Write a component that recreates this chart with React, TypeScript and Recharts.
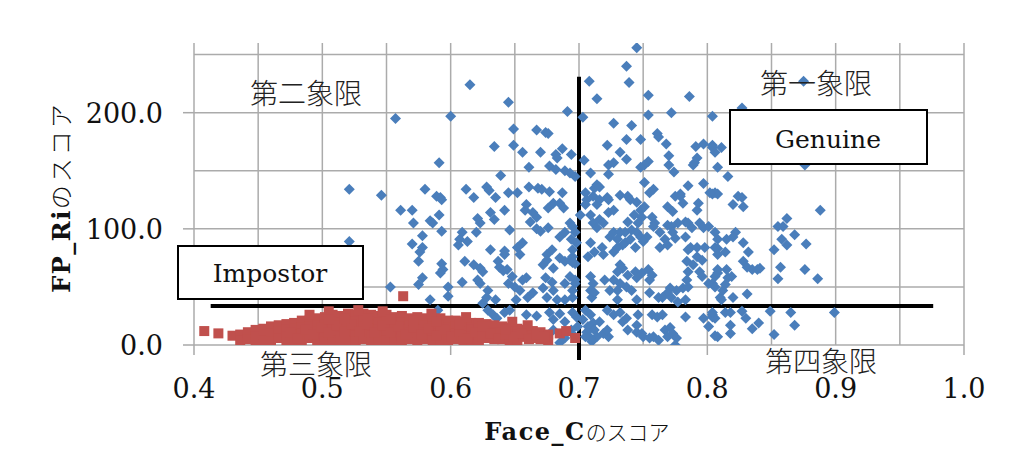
import {
  ScatterChart,
  Scatter,
  XAxis,
  YAxis,
  CartesianGrid,
  ReferenceLine,
} from 'recharts';

// Face_C score (x) / FP_Ri score (y) pairs
const genuinePoints: [number, number][] = [
  [0.615, 224], [0.645, 209], [0.557, 195], [0.600, 197], [0.691, 201], [0.649, 186], [0.667, 185],
  [0.674, 183], [0.676, 182], [0.634, 171], [0.649, 172], [0.656, 166], [0.670, 166], [0.687, 169],
  [0.694, 164], [0.682, 164], [0.683, 161], [0.591, 157], [0.661, 153], [0.677, 154], [0.682, 151],
  [0.689, 150], [0.693, 148], [0.697, 145], [0.639, 146], [0.580, 134], [0.589, 128], [0.592, 127],
  [0.546, 129], [0.612, 134], [0.618, 127], [0.628, 136], [0.630, 133], [0.635, 127], [0.645, 131],
  [0.652, 131], [0.661, 136], [0.668, 135], [0.671, 134], [0.677, 132], [0.687, 131],
  [0.521, 134], [0.521, 89],
  [0.745, 256], [0.737, 240], [0.739, 226], [0.708, 227], [0.714, 212], [0.754, 215], [0.786, 214],
  [0.754, 198], [0.772, 200], [0.804, 197], [0.703, 196], [0.727, 191], [0.741, 189], [0.761, 182],
  [0.762, 179], [0.737, 177], [0.748, 177], [0.768, 173], [0.722, 172], [0.732, 166], [0.737, 160],
  [0.770, 163], [0.791, 171], [0.797, 173], [0.804, 172], [0.806, 166], [0.808, 153], [0.792, 161],
  [0.790, 157], [0.789, 155], [0.704, 159], [0.723, 155], [0.727, 157], [0.754, 158], [0.751, 155],
  [0.748, 153], [0.770, 155], [0.774, 149], [0.709, 148], [0.723, 147], [0.751, 140], [0.714, 138],
  [0.712, 135], [0.716, 136], [0.785, 137], [0.797, 139], [0.755, 131], [0.758, 134], [0.705, 131],
  [0.732, 129], [0.738, 128], [0.722, 127], [0.775, 128], [0.779, 130], [0.804, 130], [0.808, 130],
  [0.875, 227], [0.827, 204], [0.804, 170], [0.811, 170], [0.816, 145], [0.806, 131], [0.824, 128],
  [0.827, 127], [0.876, 155], [0.888, 116],
  [0.862, 109], [0.855, 102], [0.859, 102], [0.868, 95], [0.858, 91], [0.862, 86], [0.877, 87],
  [0.852, 82], [0.857, 67], [0.876, 65], [0.886, 57], [0.855, 57], [0.820, 121], [0.828, 119],
  [0.806, 97], [0.808, 91], [0.815, 91], [0.822, 97], [0.820, 93], [0.828, 88], [0.808, 83],
  [0.814, 80], [0.808, 78], [0.832, 80], [0.828, 72], [0.831, 67], [0.835, 65], [0.839, 65],
  [0.841, 66], [0.808, 62], [0.815, 65], [0.816, 58], [0.819, 59], [0.804, 53], [0.806, 50],
  [0.814, 52], [0.812, 47], [0.810, 41], [0.811, 39], [0.820, 41], [0.831, 44], [0.849, 29],
  [0.865, 28], [0.899, 28], [0.804, 26], [0.806, 23], [0.814, 28], [0.818, 28], [0.827, 29],
  [0.830, 23], [0.840, 19], [0.818, 17], [0.835, 14], [0.868, 17], [0.806, 8], [0.818, 10], [0.852, 9],
  [0.593, 125], [0.561, 116], [0.570, 116], [0.571, 105], [0.584, 107], [0.586, 105], [0.591, 112],
  [0.593, 98], [0.578, 94], [0.570, 87], [0.578, 84], [0.576, 80], [0.575, 72], [0.578, 58],
  [0.593, 70], [0.594, 65], [0.592, 62], [0.575, 52], [0.553, 50], [0.584, 39], [0.598, 50],
  [0.598, 42], [0.609, 97], [0.613, 89], [0.606, 86], [0.607, 91], [0.620, 97], [0.611, 72],
  [0.618, 69], [0.623, 66], [0.625, 63], [0.609, 54], [0.621, 56], [0.623, 53], [0.629, 47],
  [0.628, 41], [0.635, 39], [0.625, 36], [0.631, 114], [0.634, 108], [0.642, 116], [0.623, 105],
  [0.621, 109], [0.631, 82], [0.642, 78], [0.642, 81], [0.637, 72], [0.638, 67], [0.641, 64],
  [0.646, 99], [0.644, 65], [0.648, 59], [0.645, 53], [0.650, 50], [0.656, 56], [0.659, 58],
  [0.654, 47], [0.651, 39], [0.660, 41], [0.664, 45], [0.659, 26], [0.667, 25], [0.652, 84],
  [0.656, 88], [0.654, 78], [0.658, 116], [0.659, 121], [0.664, 114], [0.667, 110], [0.662, 106],
  [0.667, 100], [0.670, 98], [0.676, 118], [0.680, 122], [0.685, 122], [0.688, 118], [0.676, 101],
  [0.685, 93], [0.689, 97], [0.693, 105], [0.675, 78], [0.679, 82], [0.675, 73], [0.672, 69],
  [0.680, 66], [0.685, 75], [0.689, 72], [0.693, 73], [0.695, 76], [0.697, 70], [0.674, 58],
  [0.679, 54], [0.672, 49], [0.680, 47], [0.689, 53], [0.693, 59], [0.697, 56], [0.675, 41],
  [0.683, 39], [0.689, 39], [0.695, 41], [0.677, 28], [0.685, 27], [0.680, 22], [0.689, 20],
  [0.695, 28], [0.590, 30], [0.629, 30], [0.633, 26], [0.636, 23], [0.642, 28], [0.646, 30],
  [0.706, 125], [0.705, 121], [0.714, 121], [0.711, 128], [0.716, 125], [0.723, 125], [0.740, 125],
  [0.745, 123], [0.748, 116], [0.769, 119], [0.773, 115], [0.779, 128], [0.781, 122], [0.792, 116],
  [0.793, 122], [0.802, 131], [0.701, 112], [0.709, 112], [0.716, 108], [0.723, 114], [0.727, 116],
  [0.719, 105], [0.711, 105], [0.714, 101], [0.738, 106], [0.743, 112], [0.749, 110], [0.751, 119],
  [0.757, 110], [0.759, 105], [0.758, 102], [0.746, 105], [0.769, 103], [0.772, 102], [0.777, 105],
  [0.783, 106], [0.785, 105], [0.788, 101], [0.794, 105], [0.797, 101], [0.801, 102],
  [0.727, 97], [0.732, 97], [0.736, 97], [0.741, 99], [0.745, 97], [0.748, 93], [0.724, 93],
  [0.730, 91], [0.736, 88], [0.740, 91], [0.744, 84], [0.753, 93], [0.750, 89], [0.763, 97],
  [0.767, 91], [0.763, 84], [0.769, 86], [0.773, 97], [0.775, 92], [0.783, 93], [0.787, 84],
  [0.785, 82], [0.792, 84], [0.792, 76], [0.798, 84], [0.796, 73], [0.806, 84], [0.709, 88],
  [0.712, 80], [0.707, 76], [0.718, 84], [0.719, 78], [0.727, 80], [0.734, 86], [0.730, 84],
  [0.695, 102], [0.697, 97], [0.694, 91], [0.698, 88], [0.695, 82],
  [0.732, 69], [0.734, 66], [0.730, 63], [0.738, 60], [0.744, 63], [0.745, 58], [0.749, 62],
  [0.754, 65], [0.757, 60], [0.755, 56], [0.720, 56], [0.727, 56], [0.732, 53], [0.737, 50],
  [0.741, 47], [0.730, 47], [0.724, 47], [0.784, 72], [0.789, 69], [0.785, 63], [0.794, 63],
  [0.796, 59], [0.784, 56], [0.781, 49], [0.785, 50], [0.776, 47], [0.771, 49], [0.769, 45],
  [0.801, 53], [0.808, 65], [0.806, 59], [0.709, 59], [0.711, 53], [0.709, 47], [0.710, 41],
  [0.712, 45], [0.695, 71], [0.697, 53], [0.695, 47], [0.730, 39], [0.745, 39], [0.755, 45],
  [0.762, 41], [0.765, 41], [0.772, 41], [0.777, 37], [0.783, 39],
  [0.705, 30], [0.709, 26], [0.703, 22], [0.711, 19], [0.707, 16], [0.716, 20], [0.712, 13],
  [0.706, 11], [0.714, 7], [0.709, 6], [0.705, 7], [0.710, 3], [0.719, 10], [0.723, 7], [0.722, 13],
  [0.722, 30], [0.727, 26], [0.732, 28], [0.734, 20], [0.737, 23], [0.745, 17], [0.746, 26],
  [0.738, 13], [0.745, 11], [0.749, 10], [0.750, 7], [0.755, 6], [0.758, 7], [0.762, 4],
  [0.757, 26], [0.761, 24], [0.765, 26], [0.767, 13], [0.771, 15], [0.773, 10], [0.776, 6],
  [0.769, 7], [0.775, 0], [0.783, 24], [0.797, 23], [0.801, 16], [0.804, 24], [0.808, 7],
  [0.804, 28], [0.698, 24], [0.699, 16], [0.697, 7], [0.694, 13], [0.680, 13], [0.689, 6], [0.685, 2],
];

const impostorPoints: [number, number][] = [
  [0.408, 12], [0.419, 10], [0.430, 8],
  [0.436, 9], [0.436, 4], [0.442, 11], [0.442, 5],
  [0.448, 13], [0.448, 7], [0.448, 2], [0.454, 14], [0.454, 9], [0.454, 4],
  [0.460, 16], [0.460, 10], [0.460, 3], [0.466, 17], [0.466, 12], [0.466, 6],
  [0.472, 18], [0.472, 13], [0.472, 7], [0.472, 2], [0.478, 19], [0.478, 14], [0.478, 9], [0.478, 4],
  [0.484, 21], [0.484, 15], [0.484, 10], [0.484, 3], [0.490, 21], [0.490, 16], [0.490, 11], [0.490, 6],
  [0.496, 23], [0.496, 17], [0.496, 12], [0.496, 6], [0.496, 2],
  [0.502, 24], [0.502, 18], [0.502, 13], [0.502, 8], [0.502, 3],
  [0.508, 26], [0.508, 20], [0.508, 14], [0.508, 9], [0.508, 4],
  [0.514, 25], [0.514, 19], [0.514, 13], [0.514, 7], [0.514, 2],
  [0.520, 27], [0.520, 21], [0.520, 15], [0.520, 10], [0.520, 4],
  [0.526, 26], [0.526, 20], [0.526, 14], [0.526, 8], [0.526, 3],
  [0.532, 27], [0.532, 22], [0.532, 16], [0.532, 10], [0.532, 5],
  [0.538, 26], [0.538, 20], [0.538, 14], [0.538, 8], [0.538, 2],
  [0.544, 25], [0.544, 19], [0.544, 13], [0.544, 7], [0.544, 3],
  [0.550, 26], [0.550, 21], [0.550, 15], [0.550, 9], [0.550, 4],
  [0.556, 24], [0.556, 18], [0.556, 12], [0.556, 6], [0.556, 2],
  [0.562, 25], [0.562, 19], [0.562, 13], [0.562, 8], [0.562, 3],
  [0.568, 23], [0.568, 17], [0.568, 11], [0.568, 5],
  [0.574, 24], [0.574, 18], [0.574, 13], [0.574, 7], [0.574, 2],
  [0.580, 23], [0.580, 17], [0.580, 11], [0.580, 5],
  [0.586, 22], [0.586, 16], [0.586, 10], [0.586, 4],
  [0.592, 23], [0.592, 17], [0.592, 12], [0.592, 6], [0.592, 2],
  [0.598, 21], [0.598, 15], [0.598, 9], [0.598, 3],
  [0.604, 21], [0.604, 16], [0.604, 10], [0.604, 5],
  [0.610, 20], [0.610, 14], [0.610, 8], [0.610, 3],
  [0.616, 19], [0.616, 13], [0.616, 7], [0.616, 2],
  [0.622, 19], [0.622, 14], [0.622, 9], [0.622, 4],
  [0.628, 18], [0.628, 12], [0.628, 6], [0.634, 17], [0.634, 11], [0.634, 5],
  [0.640, 16], [0.640, 11], [0.640, 5], [0.646, 15], [0.646, 9], [0.646, 3],
  [0.652, 14], [0.652, 9], [0.652, 4], [0.658, 13], [0.658, 7], [0.664, 12], [0.664, 6],
  [0.670, 11], [0.670, 5], [0.676, 9], [0.676, 4], [0.685, 10], [0.690, 12], [0.697, 6],
  [0.490, 26], [0.505, 29], [0.528, 30], [0.547, 29], [0.585, 27], [0.612, 24], [0.648, 20],
  [0.660, 17], [0.563, 42],
  [0.475, 11], [0.481, 6], [0.487, 13], [0.493, 9], [0.499, 15], [0.505, 11], [0.511, 17],
  [0.517, 12], [0.523, 18], [0.529, 12], [0.535, 18], [0.541, 11], [0.547, 17], [0.553, 11],
  [0.559, 16], [0.565, 9], [0.571, 15], [0.577, 9], [0.583, 14], [0.589, 8], [0.595, 13],
  [0.601, 7], [0.607, 12], [0.613, 6], [0.619, 11], [0.625, 7], [0.631, 10], [0.637, 6],
  [0.643, 9], [0.649, 7], [0.655, 10], [0.661, 5], [0.667, 9], [0.673, 7], [0.505, 22],
  [0.517, 23], [0.535, 23], [0.553, 22], [0.571, 21], [0.589, 20], [0.607, 18], [0.625, 16],
  [0.643, 13],
];

const xTicks = [0.4, 0.45, 0.5, 0.55, 0.6, 0.65, 0.7, 0.75, 0.8, 0.85, 0.9, 0.95, 1.0];
const xTickMarks = [0.4, 0.6, 0.8, 1.0];
const yTicks = [0, 50, 100, 150, 200, 250];
const yLabelled = [0, 100, 200];
const yMax = 260;

// threshold lines: Face_C = 0.7, FP_Ri = 33.6
const faceThreshold = 0.7;
const fpThreshold = 33.6;
const vSegment = [{ x: faceThreshold, y: -13 }, { x: faceThreshold, y: 231 }];
const hSegment = [{ x: 0.413, y: fpThreshold }, { x: 0.976, y: fpThreshold }];

const genuineData = genuinePoints.map(([x, y]) => ({ x, y }));
const impostorData = impostorPoints.map(([x, y]) => ({ x, y }));

const SERIF = "'DejaVu Serif', serif";
const CJK = "'Noto Sans CJK JP', sans-serif";

const near = (a: number, b: number) => Math.abs(a - b) < 1e-6;

const Diamond = (props: any) => {
  const { cx, cy } = props;
  return (
    <path
      d={`M${cx},${cy - 5.5}L${cx + 5.5},${cy}L${cx},${cy + 5.5}L${cx - 5.5},${cy}Z`}
      fill="#4a7ebb"
    />
  );
};

const Square = (props: any) => {
  const { cx, cy } = props;
  return <rect x={cx - 5} y={cy - 5} width={10} height={10} fill="#c0504d" />;
};

const XTick = (props: any) => {
  const { x, y, payload } = props;
  const v = payload.value as number;
  const major = near(v * 10, Math.round(v * 10));
  return (
    <g>
      {xTickMarks.some((t) => near(t, v)) && (
        <line x1={x} x2={x} y1={y} y2={y + 10} stroke="#a9a9a9" strokeWidth={1.5} />
      )}
      {major && (
        <text x={x} y={y + 53} textAnchor="middle" fontFamily={SERIF} fontSize={27} fill="#111">
          {v.toFixed(1)}
        </text>
      )}
    </g>
  );
};

const YTick = (props: any) => {
  const { x, y, payload } = props;
  const v = payload.value as number;
  if (!yLabelled.includes(v)) return <g />;
  return (
    <g>
      <line x1={x - 11} x2={x} y1={y} y2={y} stroke="#a9a9a9" strokeWidth={1.5} />
      <text x={x - 31} y={y + 10} textAnchor="end" fontFamily={SERIF} fontSize={27} fill="#111">
        {v.toFixed(1)}
      </text>
    </g>
  );
};

// grid rows only at the y ticks (none along the top edge of the plot)
const gridRows = ({ offset }: any) => {
  const top = offset?.top ?? 35;
  const h = offset?.height ?? 302;
  return yTicks.map((v) => top + h * (1 - v / yMax));
};

export default function App() {
  return (
    <div style={{ position: 'relative', width: 996, height: 453 }}>
      <ScatterChart
        width={996}
        height={453}
        margin={{ top: 35, right: 40, left: 86, bottom: 76 }}
      >
        <CartesianGrid stroke="#ababab" strokeWidth={1.5} horizontalCoordinatesGenerator={gridRows} />
        <XAxis
          type="number"
          dataKey="x"
          domain={[0.4, 1.0]}
          ticks={xTicks}
          interval={0}
          allowDataOverflow
          axisLine={false}
          tickLine={false}
          tickSize={0}
          tickMargin={0}
          height={40}
          tick={<XTick />}
        />
        <YAxis
          type="number"
          dataKey="y"
          domain={[0, yMax]}
          ticks={yTicks}
          interval={0}
          allowDataOverflow
          axisLine={false}
          tickLine={false}
          tickSize={0}
          tickMargin={0}
          width={100}
          tick={<YTick />}
        />
        <Scatter name="Genuine" data={genuineData} shape={Diamond} isAnimationActive={false} />
        <Scatter name="Impostor" data={impostorData} shape={Square} isAnimationActive={false} />
        <ReferenceLine segment={vSegment} stroke="#000" strokeWidth={4} ifOverflow="visible" />
        <ReferenceLine segment={hSegment} stroke="#000" strokeWidth={4} ifOverflow="visible" />
      </ScatterChart>

      <svg
        width={996}
        height={453}
        style={{ position: 'absolute', left: 0, top: 0, pointerEvents: 'none' }}
      >
        <text x={242} y={96} fontFamily={CJK} fontSize={28} fontWeight={300} fill="#222">第二象限</text>
        <text x={752} y={86} fontFamily={CJK} fontSize={28} fontWeight={300} fill="#222">第一象限</text>
        <text x={252} y={367} fontFamily={CJK} fontSize={28} fontWeight={300} fill="#222">第三象限</text>
        <text x={757} y={364} fontFamily={CJK} fontSize={28} fontWeight={300} fill="#222">第四象限</text>

        <rect x={170} y={238} width={185} height={53} fill="#fff" stroke="#000" strokeWidth={2} />
        <text x={262} y={274} textAnchor="middle" fontFamily={SERIF} fontSize={25} fill="#111">Impostor</text>
        <rect x={722} y={102} width={197} height={54} fill="#fff" stroke="#000" strokeWidth={2} />
        <text x={820} y={140} textAnchor="middle" fontFamily={SERIF} fontSize={25} fill="#111">Genuine</text>

        <text x={569} y={432} textAnchor="middle" fill="#111">
          <tspan fontFamily={SERIF} fontWeight={700} fontSize={24} letterSpacing={1.5}>Face_C</tspan>
          <tspan fontFamily={CJK} fontWeight={300} fontSize={21}>のスコア</tspan>
        </text>
        <text
          x={54}
          y={189}
          textAnchor="middle"
          fill="#111"
          transform="rotate(-90 54 189) translate(0 8)"
        >
          <tspan fontFamily={SERIF} fontWeight={700} fontSize={24} letterSpacing={1.5}>FP_Ri</tspan>
          <tspan fontFamily={CJK} fontWeight={300} fontSize={24} letterSpacing={3}>のスコア</tspan>
        </text>
      </svg>
    </div>
  );
}
